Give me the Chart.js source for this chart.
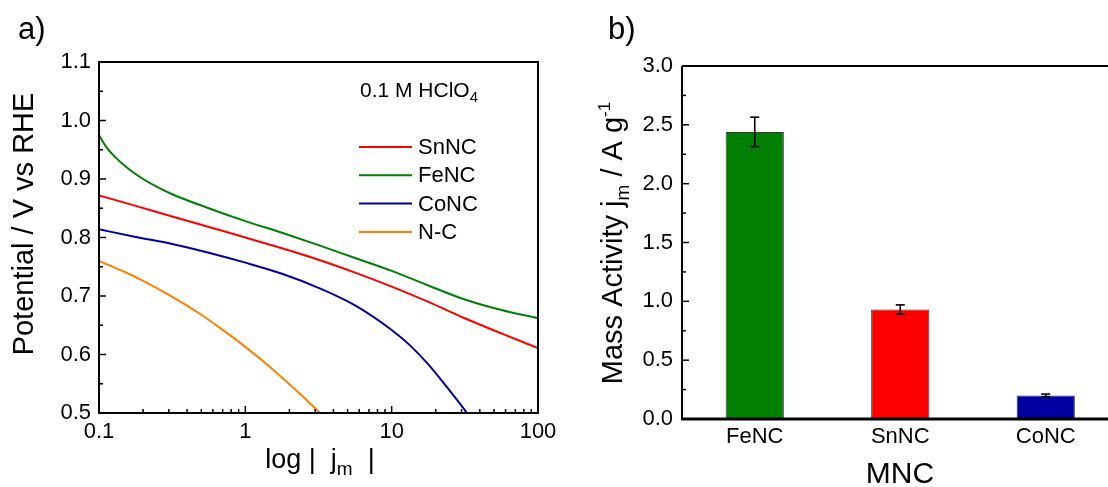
<!DOCTYPE html>
<html><head><meta charset="utf-8">
<script src="https://cdn.jsdelivr.net/npm/chart.js@4.4.0/dist/chart.umd.min.js"></script>
<style>
html,body{margin:0;padding:0;width:1108px;height:487px;overflow:hidden;background:#fff;}
#wa{position:absolute;left:0;top:0;width:590px;height:487px;}
#wb{position:absolute;left:590px;top:0;width:540px;height:487px;}
</style></head><body>
<div id="wa"><canvas id="ca" width="590" height="487"></canvas></div>
<div id="wb"><canvas id="cb" width="540" height="487"></canvas></div>
<script>
// ---------- data (panel a) ----------
const xSn   = [0.1, 0.178, 0.316, 0.562, 1, 1.78, 3.16, 5.62, 10, 17.8, 31.6, 56.2, 100];
const snncV = [0.872, 0.854, 0.836, 0.818, 0.800, 0.7815, 0.762, 0.740, 0.716, 0.690, 0.662, 0.636, 0.611];
const xFe   = [0.1, 0.112, 0.126, 0.158, 0.2, 0.251, 0.316, 0.562, 1, 1.78, 3.16, 5.62, 10, 17.8, 31.6, 56.2, 100];
const fencV = [0.975, 0.955, 0.940, 0.918, 0.900, 0.886, 0.874, 0.850, 0.828, 0.808, 0.787, 0.765, 0.743, 0.718, 0.694, 0.676, 0.662];
const xCo   = [0.1, 0.178, 0.316, 0.562, 1, 1.78, 3.16, 5.62, 10, 13.3, 17.8, 23.7, 31.6, 32.6];
const concV = [0.814, 0.801, 0.789, 0.774, 0.757, 0.738, 0.714, 0.684, 0.642, 0.616, 0.583, 0.545, 0.505, 0.500];
const xNC   = [0.1, 0.15, 0.2, 0.3, 0.5, 0.7, 1, 1.5, 2, 2.5, 3, 3.24];
const ncV   = [0.760, 0.741, 0.726, 0.702, 0.668, 0.642, 0.613, 0.577, 0.549, 0.527, 0.508, 0.500];
const seriesNames = ['SnNC', 'FeNC', 'CoNC', 'N-C'];
const potTicks = [0.5, 0.6, 0.7, 0.8, 0.9, 1.0, 1.1];
const jTicks = [0.1, 1, 10, 100];
// ---------- data (panel b) ----------
const mncCats = ['FeNC', 'SnNC', 'CoNC'];
const massAct = [2.44, 0.93, 0.20];
const massErr = [0.125, 0.04, 0.012];
const massTicks = [0, 0.5, 1.0, 1.5, 2.0, 2.5, 3.0];

const FONT = '"Liberation Sans", Arial, Helvetica, sans-serif';
Chart.defaults.font.family = FONT;
Chart.defaults.color = '#000';

function pairs(xs, ys) { return xs.map((x, i) => ({x: x, y: ys[i]})); }

// draw text made of segments {t, s (size), dy}
function drawRich(ctx, segs, x, y, align, rot) {
  ctx.save();
  ctx.translate(x, y);
  if (rot) ctx.rotate(rot);
  let total = 0;
  segs.forEach(g => { ctx.font = g.s + 'px ' + FONT; total += ctx.measureText(g.t).width; });
  let cx = align === 'center' ? -total / 2 : 0;
  ctx.fillStyle = '#000';
  ctx.textBaseline = 'alphabetic';
  ctx.textAlign = 'left';
  segs.forEach(g => {
    ctx.font = g.s + 'px ' + FONT;
    ctx.fillText(g.t, cx, g.dy || 0);
    cx += ctx.measureText(g.t).width;
  });
  ctx.restore();
}

// ---------- panel a ----------
const colorsA = ['#ff0000', '#008000', '#0000a0', '#ff8000'];
const dataA = [pairs(xSn, snncV), pairs(xFe, fencV), pairs(xCo, concV), pairs(xNC, ncV)];

const decorA = {
  id: 'decorA',
  afterDraw(chart) {
    const ctx = chart.ctx, a = chart.chartArea;
    const xs = chart.scales.x, ys = chart.scales.y;
    ctx.save();
    ctx.strokeStyle = '#000';
    ctx.lineWidth = 2;
    ctx.strokeRect(a.left, a.top, a.right - a.left, a.bottom - a.top);
    ctx.lineWidth = 1.5;
    for (let i = 0; i < potTicks.length; i++) {
      const v = potTicks[i];
      const y = ys.getPixelForValue(v);
      ctx.beginPath(); ctx.moveTo(a.left, y); ctx.lineTo(a.left + 7, y); ctx.stroke();
      if (i < potTicks.length - 1) {
        const ym = ys.getPixelForValue((v + potTicks[i + 1]) / 2);
        ctx.beginPath(); ctx.moveTo(a.left, ym); ctx.lineTo(a.left + 4, ym); ctx.stroke();
      }
    }
    for (let d = 0; d < jTicks.length; d++) {
      const dec = jTicks[d];
      for (let k = 1; k <= 9; k++) {
        const v = dec * k;
        const x = xs.getPixelForValue(v);
        const len = k === 1 ? 7 : 4;
        ctx.beginPath(); ctx.moveTo(x, a.bottom); ctx.lineTo(x, a.bottom - len); ctx.stroke();
        if (d === jTicks.length - 1) break;
      }
    }
    const lx = 359, ly0 = 147, dyL = 28.3;
    chart.data.datasets.forEach((ds, i) => {
      const y = ly0 + i * dyL;
      ctx.strokeStyle = ds.borderColor; ctx.lineWidth = 2;
      ctx.beginPath(); ctx.moveTo(lx, y); ctx.lineTo(lx + 53, y); ctx.stroke();
      ctx.fillStyle = '#000';
      ctx.font = '22px ' + FONT;
      ctx.textBaseline = 'middle'; ctx.textAlign = 'left';
      ctx.fillText(ds.label, lx + 59, y + 1);
    });
    ctx.restore();
    drawRich(ctx, [{t: '0.1 M HClO', s: 21}, {t: '4', s: 15, dy: 5}], 360, 97, 'left');
    drawRich(ctx, [{t: 'a)', s: 31}], 18, 39, 'left');
    drawRich(ctx, [{t: 'Potential / V vs RHE', s: 29}], 33, 224, 'center', -Math.PI / 2);
    drawRich(ctx, [{t: 'log', s: 27}, {t: ' | ', s: 27}, {t: ' j', s: 27}, {t: 'm', s: 19, dy: 7}, {t: '  |', s: 27}], 320, 468, 'center');
  }
};

new Chart(document.getElementById('ca'), {
  type: 'line',
  data: {
    datasets: seriesNames.map((n, i) => ({
      label: n, data: dataA[i], borderColor: colorsA[i], borderWidth: 2,
      pointRadius: 0, fill: false, cubicInterpolationMode: 'monotone'
    }))
  },
  options: {
    responsive: false, animation: false, devicePixelRatio: 1,
    layout: {padding: {left: 0, top: 62, right: 52, bottom: 0}},
    plugins: {legend: {display: false}, tooltip: {enabled: false}},
    scales: {
      x: {
        type: 'logarithmic', min: 0.1, max: 100,
        grid: {display: false, drawTicks: false}, border: {display: false},
        afterBuildTicks: s => { s.ticks = jTicks.map(v => ({value: v, major: true})); },
        afterFit: s => { s.height = 74; },
        ticks: {font: {size: 22}, padding: 6, autoSkip: false, maxRotation: 0,
          callback: v => (v < 1 ? v.toFixed(1) : String(v))}
      },
      y: {
        type: 'linear', min: 0.5, max: 1.1,
        grid: {display: false, drawTicks: false}, border: {display: false},
        afterBuildTicks: s => { s.ticks = potTicks.map(v => ({value: v})); },
        afterFit: s => { s.width = 99; },
        ticks: {font: {size: 22}, padding: 8, callback: v => Number(v).toFixed(1)}
      }
    }
  },
  plugins: [decorA]
});

// ---------- panel b ----------
const barColors = ['#007f00', '#ff0000', '#0000a0'];
const decorB = {
  id: 'decorB',
  afterDatasetsDraw(chart) {
    const ctx = chart.ctx, ys = chart.scales.y;
    const meta = chart.getDatasetMeta(0);
    ctx.save();
    ctx.strokeStyle = '#000'; ctx.lineWidth = 1.6;
    meta.data.forEach((bar, i) => {
      const x = bar.x;
      const yt = ys.getPixelForValue(massAct[i] + massErr[i]);
      const yb = ys.getPixelForValue(massAct[i] - massErr[i]);
      ctx.beginPath(); ctx.moveTo(x, yt); ctx.lineTo(x, yb); ctx.stroke();
      ctx.beginPath(); ctx.moveTo(x - 4.5, yt); ctx.lineTo(x + 4.5, yt); ctx.stroke();
      ctx.beginPath(); ctx.moveTo(x - 4.5, yb); ctx.lineTo(x + 4.5, yb); ctx.stroke();
    });
    ctx.restore();
  },
  afterDraw(chart) {
    const ctx = chart.ctx, a = chart.chartArea, ys = chart.scales.y;
    ctx.save();
    ctx.strokeStyle = '#000';
    ctx.lineWidth = 2;
    ctx.beginPath(); ctx.moveTo(a.left, a.top); ctx.lineTo(a.right + 20, a.top); ctx.stroke();
    ctx.beginPath(); ctx.moveTo(a.left, a.top); ctx.lineTo(a.left, a.bottom); ctx.stroke();
    ctx.lineWidth = 3;
    ctx.beginPath(); ctx.moveTo(a.left - 1, a.bottom); ctx.lineTo(a.right + 20, a.bottom); ctx.stroke();
    ctx.lineWidth = 1.5;
    for (let i = 0; i < massTicks.length; i++) {
      const v = massTicks[i];
      const y = ys.getPixelForValue(v);
      ctx.beginPath(); ctx.moveTo(a.left, y); ctx.lineTo(a.left + 7, y); ctx.stroke();
      if (i < massTicks.length - 1) {
        const ym = ys.getPixelForValue((v + massTicks[i + 1]) / 2);
        ctx.beginPath(); ctx.moveTo(a.left, ym); ctx.lineTo(a.left + 4, ym); ctx.stroke();
      }
    }
    ctx.restore();
    drawRich(ctx, [{t: 'b)', s: 31}], 18, 39, 'left');
    drawRich(ctx, [{t: 'MNC', s: 30}], 310, 483, 'center');
    drawRich(ctx, [{t: 'Mass Activity j', s: 29}, {t: 'm', s: 19, dy: 7}, {t: ' / A g', s: 29}, {t: '-1', s: 17, dy: -12}], 32, 243, 'center', -Math.PI / 2);
  }
};

new Chart(document.getElementById('cb'), {
  type: 'bar',
  data: {
    labels: mncCats,
    datasets: [{
      label: 'Mass Activity', data: massAct, backgroundColor: barColors,
      borderColor: '#333', borderWidth: 1, barPercentage: 0.4, categoryPercentage: 1.0
    }]
  },
  options: {
    responsive: false, animation: false, devicePixelRatio: 1,
    layout: {padding: {left: 0, top: 66, right: 11.5, bottom: 0}},
    plugins: {legend: {display: false}, tooltip: {enabled: false}},
    scales: {
      x: {
        grid: {display: false, drawTicks: false}, border: {display: false},
        afterFit: s => { s.height = 68; },
        ticks: {font: {size: 22}, padding: 5, maxRotation: 0}
      },
      y: {
        min: 0, max: 3,
        grid: {display: false, drawTicks: false}, border: {display: false},
        afterBuildTicks: s => { s.ticks = massTicks.map(v => ({value: v})); },
        afterFit: s => { s.width = 92; },
        ticks: {font: {size: 22}, padding: 9, callback: v => Number(v).toFixed(1)}
      }
    }
  },
  plugins: [decorB]
});
</script>
</body></html>
